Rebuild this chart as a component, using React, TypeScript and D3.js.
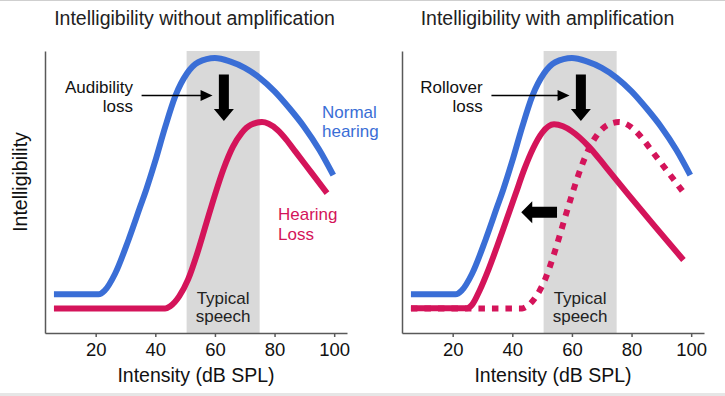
import { useRef, useEffect } from 'react';
import * as d3 from 'd3';

// x: intensity in dB SPL, y: intelligibility (0..1 of the plot height)
const tickValues = [20, 40, 60, 80, 100];
const speechBand = [50.5, 75];

const normalDb = [6, 21, 23, 26.5, 31, 35, 37, 40, 43.3, 46.7, 50.6, 54.4, 60, 65, 70, 75, 80, 85, 90, 95, 99.7];
const normalIntel = [0.137, 0.137, 0.15, 0.21, 0.33, 0.45, 0.51, 0.61, 0.73, 0.84, 0.92, 0.96, 0.975, 0.963, 0.94, 0.905, 0.857, 0.797, 0.73, 0.65, 0.56];

const lossDb = [6, 43.3, 45, 48, 51, 54, 57, 60, 63, 66, 69, 72, 75.8, 78, 81, 84, 87, 92.5, 97.6];
const lossIntel = [0.087, 0.087, 0.095, 0.13, 0.19, 0.28, 0.385, 0.49, 0.585, 0.66, 0.71, 0.738, 0.748, 0.742, 0.72, 0.685, 0.643, 0.567, 0.496];

const aidedDb = [6, 24.8, 26.5, 29, 32, 35, 38, 41, 44, 47, 50, 54, 57, 60, 65.6, 71.2, 79, 87.9, 97.4];
const aidedIntel = [0.088, 0.088, 0.1, 0.15, 0.225, 0.31, 0.4, 0.49, 0.58, 0.655, 0.71, 0.74, 0.733, 0.715, 0.662, 0.591, 0.49, 0.377, 0.259];

const BLUE = '#3a6ed6';
const RED = '#d4145a';
const FONT = "'Liberation Sans', Arial, sans-serif";

interface PanelOpts {
  dx: number;
  title: string;
  titleX: number;
  aided: boolean;
}

const drawPanel = (root: d3.Selection<SVGSVGElement, unknown, null, undefined>, opts: PanelOpts) => {
  const { dx, title, titleX, aided } = opts;
  const g = root.append('g').attr('transform', `translate(${dx},0)`);

  const x = d3.scaleLinear().domain([3, 104.3]).range([45, 347]);
  const y = d3.scaleLinear().domain([0, 1]).range([333, 51]);

  // typical speech band
  g.append('rect')
    .attr('x', x(speechBand[0]))
    .attr('y', y(1))
    .attr('width', x(speechBand[1]) - x(speechBand[0]))
    .attr('height', y(0) - y(1))
    .attr('fill', '#d9d9d9');

  const bandMid = (x(speechBand[0]) + x(speechBand[1])) / 2;
  g.append('text')
    .attr('x', bandMid)
    .attr('y', 304)
    .attr('text-anchor', 'middle')
    .attr('font-size', 17)
    .attr('fill', '#222')
    .text('Typical');
  g.append('text')
    .attr('x', bandMid)
    .attr('y', 322)
    .attr('text-anchor', 'middle')
    .attr('font-size', 17)
    .attr('fill', '#222')
    .text('speech');

  // axes
  const xAxis = g
    .append('g')
    .attr('transform', `translate(0,${y(0)})`)
    .call(d3.axisBottom(x).tickValues(tickValues).tickSize(4).tickSizeOuter(0).tickPadding(6));
  xAxis.attr('font-size', 18.5).attr('font-family', FONT);
  xAxis.select('.domain').attr('stroke', '#595959').attr('stroke-width', 1.5);
  xAxis.selectAll('.tick line').attr('stroke', '#595959').attr('stroke-width', 1.5);
  xAxis.selectAll('.tick text').attr('fill', '#111');

  const yAxis = g
    .append('g')
    .attr('transform', `translate(${x.range()[0]},0)`)
    .call(d3.axisLeft(y).tickValues([]).tickSizeOuter(0));
  yAxis.select('.domain').attr('stroke', '#595959').attr('stroke-width', 1.5);

  g.append('text')
    .attr('x', (x.range()[0] + x.range()[1]) / 2)
    .attr('y', 382)
    .attr('text-anchor', 'middle')
    .attr('font-size', 19.5)
    .attr('fill', '#111')
    .text('Intensity (dB SPL)');

  g.append('text')
    .attr('x', titleX)
    .attr('y', 25)
    .attr('text-anchor', 'middle')
    .attr('font-size', 19.5)
    .attr('fill', '#222')
    .text(title);

  // curves
  const line = d3
    .line<[number, number]>()
    .x((d) => x(d[0]))
    .y((d) => y(d[1]))
    .curve(d3.curveMonotoneX);

  const curve = (db: number[], v: number[], color: string, dash?: string) => {
    const p = g
      .append('path')
      .attr('d', line(d3.zip(db, v) as [number, number][]))
      .attr('fill', 'none')
      .attr('stroke', color)
      .attr('stroke-width', 6)
      .attr('stroke-linejoin', 'round');
    if (dash) p.attr('stroke-dasharray', dash);
  };

  curve(normalDb, normalIntel, BLUE);
  if (aided) {
    curve(aidedDb, aidedIntel, RED);
    curve(lossDb, lossIntel, RED, '6.5 7');
  } else {
    curve(lossDb, lossIntel, RED);
  }

  // big down arrow
  const ax = x(63);
  const top = y(0.917);
  const tip = y(0.752);
  g.append('path')
    .attr('d', `M${ax - 5},${top}H${ax + 5}V${tip - 12}H${ax + 10}L${ax},${tip}L${ax - 10},${tip - 12}H${ax - 5}Z`)
    .attr('fill', '#000');

  // thin pointer arrow
  const py = y(0.842);
  const px1 = x(aided ? 33 : 35.4);
  const px2 = x(59.2);
  g.append('line')
    .attr('x1', px1)
    .attr('x2', px2 - 8)
    .attr('y1', py)
    .attr('y2', py)
    .attr('stroke', '#000')
    .attr('stroke-width', 1.5);
  g.append('path')
    .attr('d', `M${px2},${py}L${px2 - 12},${py - 5.5}L${px2 - 12},${py + 5.5}Z`)
    .attr('fill', '#000');

  const label = aided ? ['Rollover', 'loss'] : ['Audibility', 'loss'];
  const labelX = aided ? 125.7 : 133;
  g.append('text')
    .attr('x', labelX)
    .attr('y', 93)
    .attr('text-anchor', 'end')
    .attr('font-size', 17)
    .attr('fill', '#111')
    .text(label[0]);
  g.append('text')
    .attr('x', labelX)
    .attr('y', 112)
    .attr('text-anchor', 'end')
    .attr('font-size', 17)
    .attr('fill', '#111')
    .text(label[1]);

  if (aided) {
    // left-pointing shift arrow
    const lt = x(43);
    const tail = x(55);
    const ly = y(0.428);
    g.append('path')
      .attr('d', `M${lt},${ly}L${lt + 11},${ly - 11}V${ly - 5.5}H${tail}V${ly + 5.5}H${lt + 11}V${ly + 11}Z`)
      .attr('fill', '#000');
  } else {
    g.append('text')
      .attr('x', 322)
      .attr('y', 118)
      .attr('font-size', 17)
      .attr('fill', BLUE)
      .text('Normal');
    g.append('text')
      .attr('x', 322)
      .attr('y', 137)
      .attr('font-size', 17)
      .attr('fill', BLUE)
      .text('hearing');
    g.append('text')
      .attr('x', 278)
      .attr('y', 220)
      .attr('font-size', 17)
      .attr('fill', RED)
      .text('Hearing');
    g.append('text')
      .attr('x', 278)
      .attr('y', 240)
      .attr('font-size', 17)
      .attr('fill', RED)
      .text('Loss');
    g.append('text')
      .attr('transform', 'translate(27,182) rotate(-90)')
      .attr('text-anchor', 'middle')
      .attr('font-size', 19.5)
      .attr('fill', '#111')
      .text('Intelligibility');
  }
};

const App = () => {
  const svgRef = useRef<SVGSVGElement>(null);

  useEffect(() => {
    if (!svgRef.current) return;
    const width = 725;
    const height = 396;

    const svg = d3
      .select(svgRef.current)
      .attr('width', width)
      .attr('height', height)
      .attr('viewBox', [0, 0, width, height])
      .attr('font-family', FONT);

    svg.selectAll('*').remove();

    svg.append('rect').attr('width', width).attr('height', height).attr('fill', '#fff');
    svg.append('line').attr('x1', 0).attr('x2', width).attr('y1', 0.5).attr('y2', 0.5).attr('stroke', '#cfcfcf');
    svg.append('rect').attr('x', 0).attr('y', 393).attr('width', width).attr('height', 3).attr('fill', '#e6e6e6');

    drawPanel(svg, { dx: 0, title: 'Intelligibility without amplification', titleX: 194.5, aided: false });
    drawPanel(svg, { dx: 357, title: 'Intelligibility with amplification', titleX: 190.5, aided: true });
  }, []);

  return <svg ref={svgRef} style={{ position: 'absolute', left: 0, top: 0 }}></svg>;
};

export default App;
